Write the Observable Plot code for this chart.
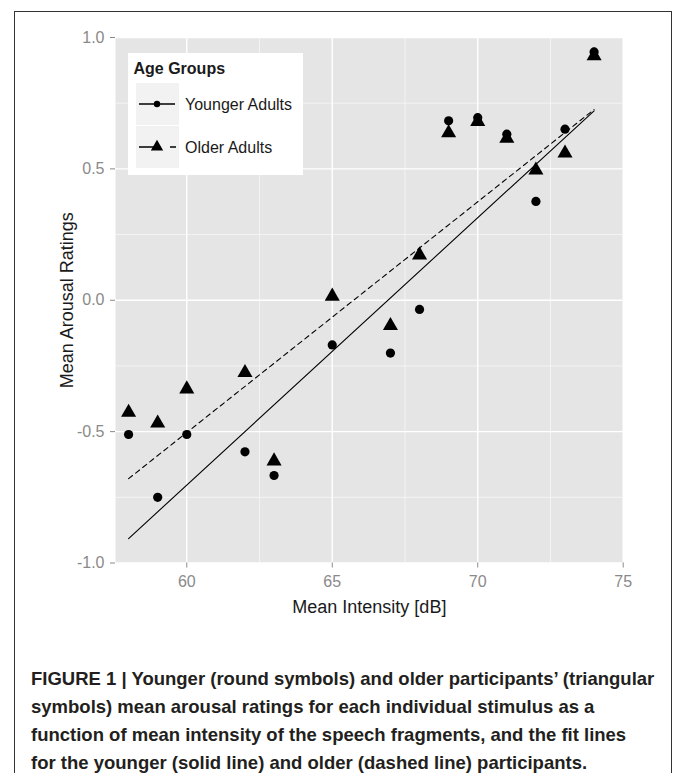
<!DOCTYPE html>
<html><head><meta charset="utf-8">
<script src="https://cdn.jsdelivr.net/npm/d3@7"></script>
<script src="https://cdn.jsdelivr.net/npm/@observablehq/plot@0.6"></script>
<style>
html,body{margin:0;padding:0;background:#fff;}
body{width:673px;height:773px;position:relative;overflow:hidden;font-family:"Liberation Sans",Arial,sans-serif;}
#frame{position:absolute;left:14px;top:11px;width:658px;height:800px;border:1.5px solid #333;box-sizing:border-box;}
#chart{position:absolute;left:0;top:0;}
#legend{position:absolute;left:128px;top:53px;}
#caption{position:absolute;left:31px;top:665px;font-weight:bold;font-size:18.5px;line-height:28px;color:#231f20;white-space:nowrap;}
</style></head><body>
<div id="frame"></div><div id="chart"></div><div id="legend"></div><div id="caption"></div>
<script>
// ---- data ----
const intensity = [58, 59, 60, 62, 63, 65, 67, 68, 69, 70, 71, 72, 73, 74];
const youngerRatings = [-0.511, -0.750, -0.511, -0.577, -0.667, -0.170, -0.201, -0.035, 0.683, 0.695, 0.632, 0.376, 0.651, 0.945];
const olderRatings = [-0.427, -0.468, -0.338, -0.276, -0.612, 0.015, -0.097, 0.172, 0.637, 0.680, 0.616, 0.495, 0.560, 0.930];
const fitIntensity = [58, 74];
const youngerFit = [-0.907, 0.721];
const olderFit = [-0.679, 0.726];
const xTicks = [60, 65, 70, 75];
const xMinor = [62.5, 67.5, 72.5];
const yTicks = [-1, -0.5, 0, 0.5, 1];
const yTickLabels = ["-1.0", "-0.5", "0.0", "0.5", "1.0"];
const yMinor = [-0.75, -0.25, 0.25, 0.75];
const groups = ["Younger Adults", "Older Adults"];
const legendTitle = "Age Groups";
const xTitle = "Mean Intensity [dB]";
const yTitle = "Mean Arousal Ratings";
const captionLines = [
  "FIGURE 1 | Younger (round symbols) and older participants\u2019 (triangular",
  "symbols) mean arousal ratings for each individual stimulus as a",
  "function of mean intensity of the speech fragments, and the fit lines",
  "for the younger (solid line) and older (dashed line) participants."
];

// ---- tables built from arrays ----
const younger = intensity.map((x, i) => ({x, y: youngerRatings[i]}));
const older = intensity.map((x, i) => ({x, y: olderRatings[i]}));
const youngerLine = fitIntensity.map((x, i) => ({x, y: youngerFit[i]}));
const olderLine = fitIntensity.map((x, i) => ({x, y: olderFit[i]}));

const tickColor = "#8a8a8a";
const chart = Plot.plot({
  width: 673,
  height: 625,
  marginLeft: 115,
  marginRight: 50.3,
  marginTop: 37,
  marginBottom: 62.5,
  style: {fontFamily: "'Liberation Sans', Arial, sans-serif", fontSize: "16px", background: "transparent"},
  x: {domain: [57.55, 75]},
  y: {domain: [-1, 1]},
  marks: [
    Plot.frame({fill: "#e5e5e5", stroke: "none"}),
    Plot.ruleX(xMinor, {stroke: "#f5f5f5", strokeWidth: 0.9}),
    Plot.ruleY(yMinor, {stroke: "#f5f5f5", strokeWidth: 0.9}),
    Plot.ruleX(xTicks, {stroke: "#ffffff", strokeWidth: 1.4}),
    Plot.ruleY(yTicks, {stroke: "#ffffff", strokeWidth: 1.4}),
    Plot.dot(younger, {x: "x", y: "y", r: 4.6, fill: "black", stroke: "none", symbol: "circle"}),
    Plot.dot(older, {x: "x", y: "y", r: 5.6, fill: "black", stroke: "none", symbol: "triangle"}),
    Plot.line(youngerLine, {x: "x", y: "y", stroke: "black", strokeWidth: 1.1}),
    Plot.line(olderLine, {x: "x", y: "y", stroke: "black", strokeWidth: 1.1, strokeDasharray: "5,4"}),
    Plot.axisX(xTicks, {tickSize: 5, tickPadding: 7.5, fontSize: 16, color: tickColor, label: null, tickFormat: d => String(d)}),
    Plot.axisY(yTicks, {tickSize: 5, tickPadding: 6, fontSize: 16, color: tickColor, label: null, tickFormat: d => yTickLabels[yTicks.indexOf(d)]}),
    Plot.text([xTitle], {frameAnchor: "bottom", dy: 44, text: d => d, fontSize: 18, fill: "#1a1a1a", textAnchor: "middle", lineAnchor: "middle"}),
    Plot.text([yTitle], {frameAnchor: "left", dx: -48, rotate: -90, text: d => d, fontSize: 18, fill: "#1a1a1a", textAnchor: "middle", lineAnchor: "middle"})
  ]
});
document.getElementById("chart").appendChild(chart);

// ---- legend ----
const ns = "http://www.w3.org/2000/svg";
const lg = document.createElementNS(ns, "svg");
lg.setAttribute("width", 175); lg.setAttribute("height", 122);
lg.style.display = "block";
function el(tag, attrs, text) {
  const e = document.createElementNS(ns, tag);
  for (const k in attrs) e.setAttribute(k, attrs[k]);
  if (text != null) e.textContent = text;
  lg.appendChild(e);
  return e;
}
el("rect", {x: 0, y: 0, width: 175, height: 122, fill: "#ffffff"});
el("text", {x: 5.5, y: 15.5, "dominant-baseline": "central", "font-family": "'Liberation Sans', Arial, sans-serif", "font-size": 16, "font-weight": "bold", fill: "#1a1a1a"}, legendTitle);
const keyTops = [30, 73];
groups.forEach((g, i) => {
  const top = keyTops[i], cy = top + 21;
  el("rect", {x: 8, y: top, width: 43, height: 42, fill: "#f2f2f2"});
  if (i === 0) {
    el("line", {x1: 11, x2: 47, y1: cy, y2: cy, stroke: "black", "stroke-width": 1.3});
    el("circle", {cx: 29, cy: cy, r: 3.2, fill: "black"});
  } else {
    el("line", {x1: 11, x2: 48, y1: cy, y2: cy, stroke: "black", "stroke-width": 1.3, "stroke-dasharray": "15,16,6"});
    const s = d3.symbol(d3.symbolTriangle, Math.PI * 4.6 * 4.6)();
    el("path", {d: s, transform: `translate(29,${cy})`, fill: "black"});
  }
  el("text", {x: 57, y: cy, "dominant-baseline": "central", "font-family": "'Liberation Sans', Arial, sans-serif", "font-size": 16, fill: "#1a1a1a"}, g);
});
document.getElementById("legend").appendChild(lg);

// ---- caption ----
const cap = document.getElementById("caption");
captionLines.forEach((t, i) => {
  if (i) cap.appendChild(document.createElement("br"));
  cap.appendChild(document.createTextNode(t));
});
</script>
</body></html>
